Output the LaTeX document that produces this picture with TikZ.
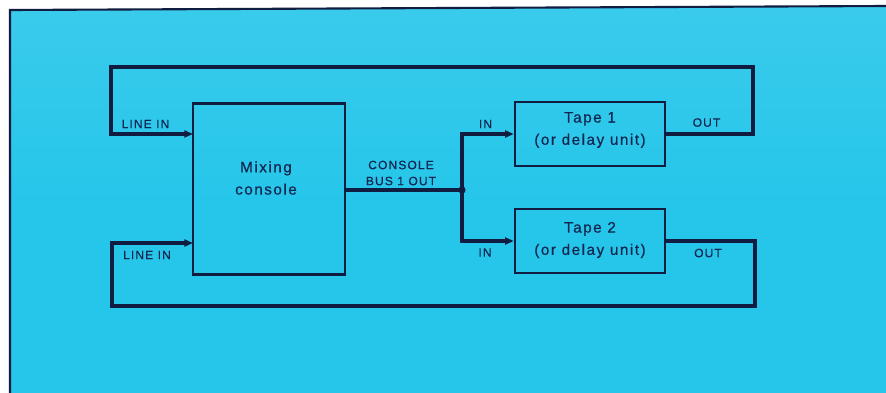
\documentclass[tikz,border=0pt]{standalone}
\usepackage{fontspec}
\setmainfont{Liberation Sans}
\usetikzlibrary{arrows.meta}
\definecolor{bgcyan}{RGB}{38,198,234}
\definecolor{bgtop}{RGB}{58,203,236}
\definecolor{ink}{RGB}{16,28,64}
\definecolor{txt}{RGB}{18,38,80}
\tikzset{
  box/.style={draw=ink, line width=2.1pt, inner sep=0pt},
  wire/.style={draw=ink, line width=2.9pt, line join=miter, line cap=butt},
  tipped/.style={-{Triangle[length=2.6mm,width=2.1mm]}},
  smalllabel/.style={text=txt, inner sep=0pt, font=\fontsize{10.3pt}{12pt}\selectfont\addfontfeature{LetterSpace=9,FakeBold=0.4}},
  bigtext/.style={text=txt, inner sep=0pt, align=center, font=\fontsize{13pt}{19pt}\selectfont\addfontfeature{LetterSpace=10,FakeBold=0.4}},
}
\begin{document}
\begin{tikzpicture}[x=0.03cm,y=-0.03cm]
\useasboundingbox (0,0) rectangle (886,393);
% background
\fill[white] (0,0) rectangle (886,393);
\shade[top color=bgtop, bottom color=bgcyan, middle color=bgcyan] (10,10) -- (886,6) -- (886,393) -- (10,393) -- cycle;
\draw[ink, line width=1.8pt] (886,6) -- (10,10) -- (10,393);

% boxes
\node[box, minimum width=4.56cm, minimum height=5.13cm] (mix) at (269,189) {};
\node[box, minimum width=4.5cm, minimum height=1.92cm] (t1) at (590,134) {};
\node[box, minimum width=4.5cm, minimum height=1.92cm] (t2) at (590,241) {};

% box texts
\node[bigtext] (mixtxt) at (266,178) {Mixing\\console};
\node[bigtext] (t1txt) at (590,130) {Tape 1\\(or delay unit)};
\node[bigtext] (t2txt) at (590,240) {Tape 2\\(or delay unit)};

% coordinates
\coordinate (trc) at (753,67);
\coordinate (tlc) at (111,134);
\coordinate (in1) at (193,134);
\coordinate (brc) at (755,306);
\coordinate (blc) at (112,243);
\coordinate (in2) at (193,243);
\coordinate (jn) at (462,190);

% loops
\draw[wire, tipped] (t1.east) -| (trc) -| (tlc) -- (in1);
\draw[wire, tipped] (t2.east) -| (brc) -| (blc) -- (in2);

% bus
\draw[wire] (mix.east |- jn) -- (jn);
\draw[wire, tipped] (jn) |- (t1.west);
\draw[wire, tipped] (jn) |- (t2.west);
\fill[ink] (jn) circle (3.6);

% labels
\node[smalllabel] (li1) at (145.5,124) {LINE IN};
\node[smalllabel] (li2) at (147,255) {LINE IN};
\node[smalllabel] (cb1) at (401,165) {CONSOLE};
\node[smalllabel] (cb2) at (401,181) {BUS 1 OUT};
\node[smalllabel] (in1l) at (485.5,124) {IN};
\node[smalllabel] (in2l) at (485,252.5) {IN};
\node[smalllabel] (o1) at (706.5,122.5) {OUT};
\node[smalllabel] (o2) at (708,253) {OUT};
\end{tikzpicture}
\end{document}
